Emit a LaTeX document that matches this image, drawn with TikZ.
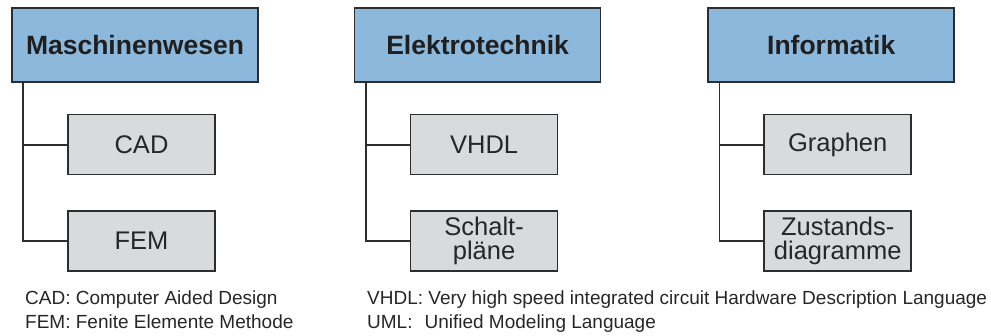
\documentclass[tikz,border=0pt]{standalone}
\usepackage{fontspec}
\setmainfont{Liberation Sans}
\usepackage{xcolor}
\usetikzlibrary{positioning}
\definecolor{headblue}{RGB}{140,184,220}
\definecolor{subgrey}{RGB}{217,218,220}
\definecolor{linegrey}{RGB}{45,45,45}

\begin{document}
\begin{tikzpicture}[
    x=1pt, y=1pt,
    head/.style={draw=linegrey, line width=1.6pt, fill=headblue, minimum width=246pt, minimum height=74pt, inner sep=0pt, font=\fontsize{26.5}{27}\selectfont\bfseries, text=black!88},
    sub/.style={draw=linegrey, line width=1.6pt, fill=subgrey, minimum width=147pt, minimum height=60pt, inner sep=0pt, align=center, font=\fontsize{25.5}{25}\selectfont, text=black!85},
    conn/.style={draw=linegrey, line width=1.8pt},
    legend/.style={inner sep=0pt, anchor=base west, font=\fontsize{19}{22}\selectfont, text=black!85}
]
\useasboundingbox (0,0) rectangle (991,-335);

\node[head] (masch) at (135,-45) {Maschinenwesen};
\node[head, right=95pt of masch] (elektro) {Elektrotechnik};
\node[head, right=106pt of elektro] (info) {Informatik};

\node[sub, below right=31pt and 56pt of masch.south west] (cad) {CAD};
\node[sub, below=35pt of cad] (fem) {FEM};
\node[sub, below right=31pt and 56pt of elektro.south west] (vhdl) {VHDL};
\node[sub, below=35pt of vhdl] (schalt) {Schalt-\\[-1pt]pläne};
\node[sub, below right=31pt and 56pt of info.south west] (graph) {Graphen};
\node[sub, below=35pt of graph] (zust) {Zustands-\\[-1pt]diagramme};

\draw[conn] ([xshift=12pt]masch.south west) |- (cad.west);
\draw[conn] ([xshift=12pt]masch.south west) |- (fem.west);
\draw[conn] ([xshift=12pt]elektro.south west) |- (vhdl.west);
\draw[conn] ([xshift=12pt]elektro.south west) |- (schalt.west);
\draw[conn] ([xshift=12pt]info.south west) |- (graph.west);
\draw[conn] ([xshift=12pt]info.south west) |- (zust.west);

% abbreviations
\node[legend] (cadtxt) at (25,-304.5) {CAD: Computer Aided Design};
\node[legend] (femtxt) at ([yshift=-24pt]cadtxt.base west) {FEM: Fenite Elemente Methode};
\node[legend] (vhdltxt) at (367,-304.5) {VHDL: Very high speed integrated circuit Hardware Description Language};
\node[legend] (umltxt) at ([yshift=-24pt]vhdltxt.base west) {UML:\hspace{12pt}Unified Modeling Language};
\end{tikzpicture}
\end{document}
